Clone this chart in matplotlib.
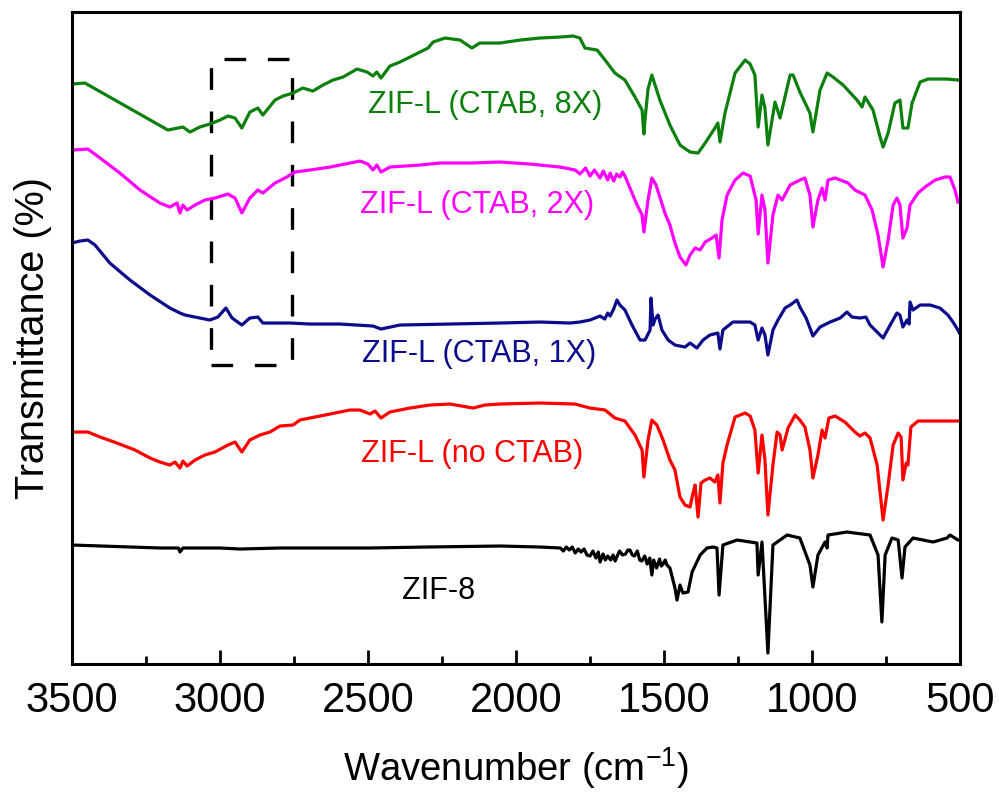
import matplotlib
matplotlib.use("Agg")
import matplotlib.pyplot as plt
from matplotlib.patches import Rectangle

plt.rcParams['font.family'] = ['Liberation Sans', 'DejaVu Sans']
plt.rcParams['mathtext.fontset'] = 'custom'
plt.rcParams['mathtext.rm'] = 'Liberation Sans'
plt.rcParams['mathtext.it'] = 'Liberation Sans'

# ---------------- data (wavenumber cm^-1, transmittance a.u. with offsets) ----------------
wn_8x = [3500, 3456, 3176, 3125, 3101, 3068, 3034, 3000, 2973, 2949, 2926, 2899, 2872, 2855,
         2814, 2787, 2753, 2720, 2686, 2652, 2618, 2584, 2537, 2503, 2483, 2470, 2456, 2426,
         2392, 2358, 2324, 2297, 2280, 2240, 2189, 2149, 2122, 2054, 1986, 1919, 1851, 1807,
         1784, 1767, 1726, 1699, 1666, 1632, 1598, 1574, 1568, 1564, 1554, 1541, 1514, 1480,
         1446, 1412, 1385, 1361, 1328, 1318, 1311, 1294, 1260, 1226, 1209, 1193, 1182, 1169,
         1159, 1149, 1125, 1108, 1074, 1064, 1041, 1007, 997, 973, 949, 929, 895, 848, 831,
         821, 794, 770, 760, 743, 720, 703, 693, 676, 662, 635, 608, 544, 507, 500]
t_8x = [580, 581, 534, 537, 532, 537, 540, 544, 548, 546, 536, 552, 556, 549,
        564, 568, 571, 576, 573, 579, 584, 587, 595, 592, 588, 592, 586, 598,
        602, 607, 612, 616, 622, 626, 624, 616, 621, 621, 624, 626, 627, 628,
        626, 616, 614, 604, 591, 584, 567, 554, 530, 545, 575, 589, 564, 539,
        519, 512, 511, 521, 536, 541, 522, 551, 591, 604, 600, 589, 537, 569,
        556, 519, 562, 546, 589, 589, 572, 551, 532, 574, 591, 587, 579, 564, 557,
        567, 554, 527, 517, 531, 561, 564, 536, 536, 561, 582, 585, 585, 584, 584]

wn_2x = [3500, 3446, 3405, 3338, 3270, 3203, 3169, 3145, 3135, 3125, 3111, 3084, 3051, 3017,
         2973, 2949, 2926, 2899, 2872, 2855, 2814, 2774, 2747, 2696, 2628, 2561, 2527, 2500,
         2483, 2470, 2456, 2426, 2324, 2257, 2155, 2054, 1953, 1851, 1800, 1784, 1765, 1750,
         1735, 1716, 1705, 1690, 1682, 1670, 1660, 1649, 1640, 1632, 1615, 1591, 1574, 1568,
         1554, 1541, 1527, 1514, 1497, 1480, 1463, 1446, 1426, 1412, 1395, 1378, 1361, 1338,
         1324, 1314, 1304, 1287, 1260, 1233, 1209, 1189, 1182, 1169, 1159, 1149, 1132, 1115,
         1101, 1074, 1041, 1024, 1007, 997, 980, 966, 956, 946, 922, 878, 855, 821, 797, 777,
         760, 743, 726, 713, 703, 693, 679, 669, 642, 618, 584, 551, 534, 517, 507]
t_2x = [514, 515, 506, 491, 474, 461, 457, 461, 451, 459, 454, 459, 464, 466,
        470, 466, 451, 466, 474, 471, 481, 487, 492, 494, 497, 501, 503, 500,
        494, 499, 492, 497, 499, 501, 501, 502, 500, 497, 494, 490, 496, 488,
        494, 486, 493, 484, 491, 483, 490, 487, 492, 488, 476, 459, 449, 432,
        464, 486, 479, 467, 451, 439, 421, 407, 399, 409, 416, 414, 422, 426,
        429, 406, 444, 469, 484, 491, 488, 464, 430, 469, 454, 401, 449, 469,
        464, 479, 484, 486, 469, 437, 464, 476, 464, 484, 486, 481, 474, 469, 454, 429,
        397, 424, 459, 466, 459, 426, 436, 459, 471, 477, 484, 487, 487, 474, 462]

wn_1x = [3500, 3473, 3446, 3422, 3372, 3304, 3236, 3169, 3135, 3118, 3068, 3034, 3007, 2980,
         2959, 2926, 2899, 2872, 2855, 2814, 2764, 2696, 2595, 2483, 2456, 2392, 2223, 2054,
         1919, 1818, 1784, 1750, 1716, 1700, 1690, 1682, 1670, 1659, 1649, 1632, 1608, 1581,
         1564, 1547, 1544, 1537, 1530, 1520, 1507, 1486, 1463, 1429, 1412, 1389, 1368, 1345,
         1318, 1311, 1301, 1267, 1209, 1193, 1182, 1169, 1159, 1149, 1132, 1115, 1091, 1074,
         1051, 1041, 1020, 1007, 997, 973, 939, 905, 882, 865, 838, 818, 804, 780, 760, 736,
         713, 703, 693, 679, 672, 669, 659, 635, 601, 568, 541, 524, 507, 500]
t_1x = [421, 423, 424, 419, 401, 384, 369, 356, 351, 349, 346, 344, 347, 356,
        346, 339, 346, 347, 341, 341, 341, 340, 340, 338, 335, 339, 340, 341,
        342, 341, 342, 344, 348, 345, 351, 348, 355, 364, 359, 354, 339, 324,
        324, 334, 366, 339, 345, 349, 334, 324, 319, 317, 321, 316, 324, 329,
        331, 315, 334, 342, 342, 339, 324, 336, 329, 309, 334, 344, 356, 359,
        364, 357, 346, 336, 328, 337, 342, 346, 352, 347, 346, 347, 339, 332, 326, 339,
        351, 349, 337, 344, 340, 362, 354, 359, 359, 356, 349, 342, 334, 330]

wn_no = [3500, 3446, 3405, 3348, 3287, 3236, 3203, 3169, 3152, 3135, 3125, 3111, 3084, 3051,
         3017, 2973, 2949, 2926, 2899, 2865, 2831, 2797, 2753, 2730, 2679, 2628, 2561, 2527,
         2493, 2476, 2456, 2426, 2358, 2291, 2223, 2145, 2105, 2054, 1919, 1801, 1750, 1699,
         1666, 1632, 1598, 1574, 1568, 1554, 1541, 1524, 1503, 1480, 1463, 1446, 1429, 1412,
         1402, 1395, 1385, 1375, 1361, 1345, 1328, 1318, 1311, 1301, 1287, 1260, 1226, 1209,
         1193, 1182, 1169, 1159, 1149, 1132, 1118, 1108, 1101, 1081, 1057, 1041, 1024, 1007,
         997, 980, 966, 956, 943, 922, 889, 855, 838, 821, 804, 780, 760, 743, 726, 709, 699,
         693, 682, 676, 666, 642, 584, 534, 500]
t_no = [232, 232, 227, 221, 214, 206, 202, 199, 202, 196, 203, 198, 204, 209,
        212, 219, 222, 212, 224, 229, 232, 238, 239, 244, 247, 250, 254, 254,
        250, 253, 246, 252, 256, 259, 260, 256, 259, 260, 261, 260, 256, 254,
        246, 243, 229, 214, 187, 224, 244, 239, 224, 204, 194, 167, 159, 157,
        171, 179, 147, 181, 184, 186, 182, 189, 161, 201, 219, 247, 251, 248,
        234, 191, 229, 204, 149, 199, 232, 229, 214, 236, 249, 244, 237, 214,
        186, 209, 234, 226, 246, 248, 242, 232, 228, 231, 226, 199, 144, 179, 219, 231, 227,
        184, 201, 199, 237, 243, 243, 243, 243]

wn_z8 = [3500, 3400, 3300, 3200, 3140, 3135, 3125, 3000, 2932, 2800, 2500, 2300, 2054, 1919,
         1850, 1840, 1830, 1820, 1810, 1800, 1790, 1780, 1770, 1760, 1750, 1740, 1730, 1722,
         1716, 1706, 1698, 1690, 1680, 1672, 1665, 1658, 1650, 1640, 1630, 1622, 1615, 1607,
         1600, 1590, 1582, 1575, 1565, 1557, 1548, 1541, 1535, 1525, 1515, 1509, 1503, 1496,
         1490, 1480, 1463, 1456, 1446, 1436, 1419, 1405, 1378, 1355, 1334, 1321, 1314, 1301,
         1253, 1186, 1182, 1169, 1149, 1132, 1084, 1041, 1007, 997, 980, 956, 949, 946, 882,
         804, 777, 764, 753, 730, 709, 696, 686, 659, 591, 544, 534, 507, 500]
t_z8 = [119, 118, 117, 116, 116, 112, 116, 116, 115, 116, 116, 117, 118, 117,
        116, 113, 117, 114, 117, 111, 115, 112, 115, 109, 108, 113, 106, 112,
        102, 110, 104, 108, 104, 109, 103, 108, 113, 109, 110, 114, 114, 109,
        108, 113, 104, 103, 108, 100, 106, 89, 104, 96, 105, 98, 100, 104,
        99, 96, 76, 64, 79, 71, 72, 92, 109, 116, 117, 116, 69, 119,
        124, 121, 89, 122, 11, 119, 129, 126, 99, 77, 109, 122, 116, 129, 132,
        129, 109, 42, 109, 126, 124, 86, 117, 126, 122, 126, 129, 124, 124]

rect_wn = [3030, 2757]
rect_t = [299, 605]

labels = ['ZIF-L (CTAB, 8X)', 'ZIF-L (CTAB, 2X)', 'ZIF-L (CTAB, 1X)', 'ZIF-L (no CTAB)', 'ZIF-8']
label_wn = [2103, 2130, 2123, 2147, 2260]
label_t = [551, 451, 302, 202, 65]
colors = ['#0c800c', '#ff00ff', '#0b0b8b', '#ff0000', '#000000']

xticks = [3500, 3000, 2500, 2000, 1500, 1000, 500]

# ---------------- figure ----------------
fig = plt.figure(figsize=(9.99, 7.92), dpi=100)
ax = fig.add_axes([0.072, 0.1616, 0.889, 0.8232])

series = [(wn_8x, t_8x), (wn_2x, t_2x), (wn_1x, t_1x), (wn_no, t_no), (wn_z8, t_z8)]
for (w, t), c in zip(series, colors):
    ax.plot(w, t, color=c, lw=2.3, solid_joinstyle='round')

for lab, lw_, lt, c in zip(labels, label_wn, label_t, colors):
    ax.text(lw_, lt, lab, color=c, fontsize=22, ha='center', va='baseline')

rect = Rectangle((rect_wn[0], rect_t[0]), rect_wn[1] - rect_wn[0], rect_t[1] - rect_t[0],
                 fill=False, edgecolor='black', lw=2.4, linestyle=(0, (6.5, 6.5)))
ax.add_patch(rect)

ax.set_xlim(3500, 500)
ax.set_ylim(0, 652)
ax.set_xticks(xticks)
ax.set_xticks([3250, 2750, 2250, 1750, 1250, 750], minor=True)
ax.set_yticks([])
ax.tick_params(axis='x', which='major', direction='in', length=10, width=2, labelsize=30, pad=12)
ax.tick_params(axis='x', which='minor', direction='in', length=6, width=2)
for s in ax.spines.values():
    s.set_linewidth(2.2)

ax.set_xlabel('Wavenumber (cm$^{-1}$)', fontsize=27.5, labelpad=18)
ax.set_ylabel('Transmittance (%)', fontsize=28.5, labelpad=14)

fig.savefig('out.png', dpi=100)
